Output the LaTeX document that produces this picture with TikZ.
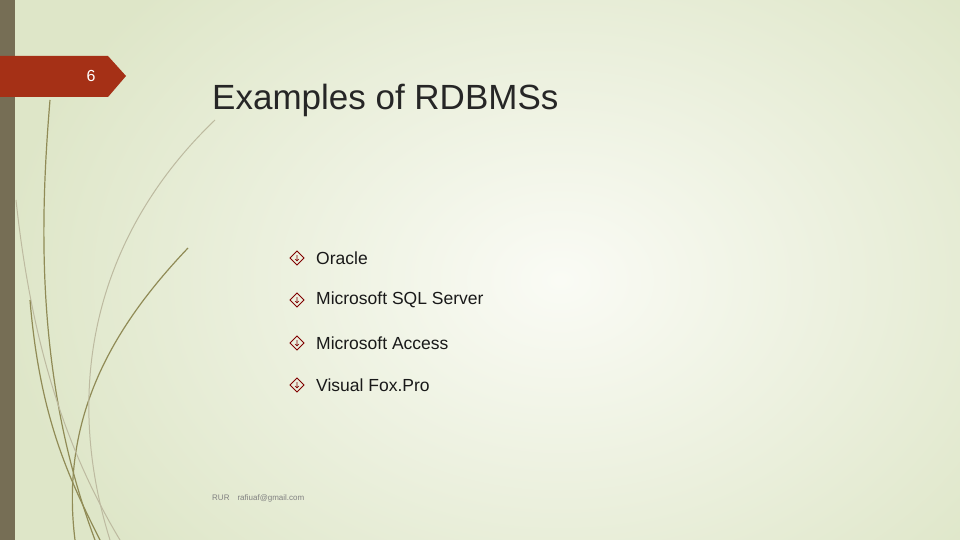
\documentclass[tikz,border=0pt]{standalone}
\usepackage{fontspec}
\setmainfont{Liberation Sans}
\begin{document}
\begin{tikzpicture}[x=1pt,y=-1pt,
  item/.style={anchor=west,font=\fontsize{17.5}{20}\selectfont,text=black!90,inner sep=0},
  grass/.style={draw=olive!40!gray,line width=1.2pt},
  grasslt/.style={draw=olive!25!gray!60,line width=1pt}]
\definecolor{bgedge}{RGB}{222,230,200}
\definecolor{bgmid}{RGB}{250,251,245}
\definecolor{barc}{RGB}{118,110,85}
\definecolor{badge}{RGB}{165,48,22}
\useasboundingbox (0,0) rectangle (960,540);
\fill[bgedge] (0,0) rectangle (960,540);
\shade[inner color=bgmid, outer color=bgedge] (560,280) ellipse (560 and 420);
\fill[barc] (0,0) rectangle (15,540);
% grass curves
\draw[grass] (50,100) .. controls (40,220) and (35,380) .. (95,540);
\draw[grass] (188,248) .. controls (110,330) and (60,420) .. (75,540);
\draw[grasslt] (215,120) .. controls (100,230) and (60,380) .. (110,540);
\draw[grasslt] (16,200) .. controls (30,330) and (60,440) .. (120,540);
\draw[grass] (30,300) .. controls (40,420) and (70,480) .. (100,540);
% badge
\fill[badge] (0,56) -- (108,56) -- (126,76) -- (108,97) -- (0,97) -- cycle;
\node[text=white,font=\fontsize{16}{18}\selectfont] (num) at (91,76) {6};
\node[anchor=west,font=\fontsize{35}{40}\selectfont,text=black!85,inner sep=0] (title) at (212,100) {Examples of RDBMSs};
\foreach \t/\y [count=\i] in {Oracle/258,Microsoft SQL Server/300,Microsoft Access/343,Visual Fox.Pro/385}{
  \node[item] (it\i) at (316,\y) {\t};
  \draw[red!50!black,line width=0.8pt] (297,\y-7) -- (304,\y) -- (297,\y+7) -- (290,\y) -- cycle;
  \draw[red!50!black,line width=0.6pt] (297,\y-3) -- (297,\y+3) (295,\y+1) -- (297,\y+3) -- (299,\y+1);
}
\node[anchor=west,font=\fontsize{8}{9}\selectfont,text=gray,inner sep=0] (foot) at (212,498) {RUR\quad rafiuaf@gmail.com};
\end{tikzpicture}
\end{document}
